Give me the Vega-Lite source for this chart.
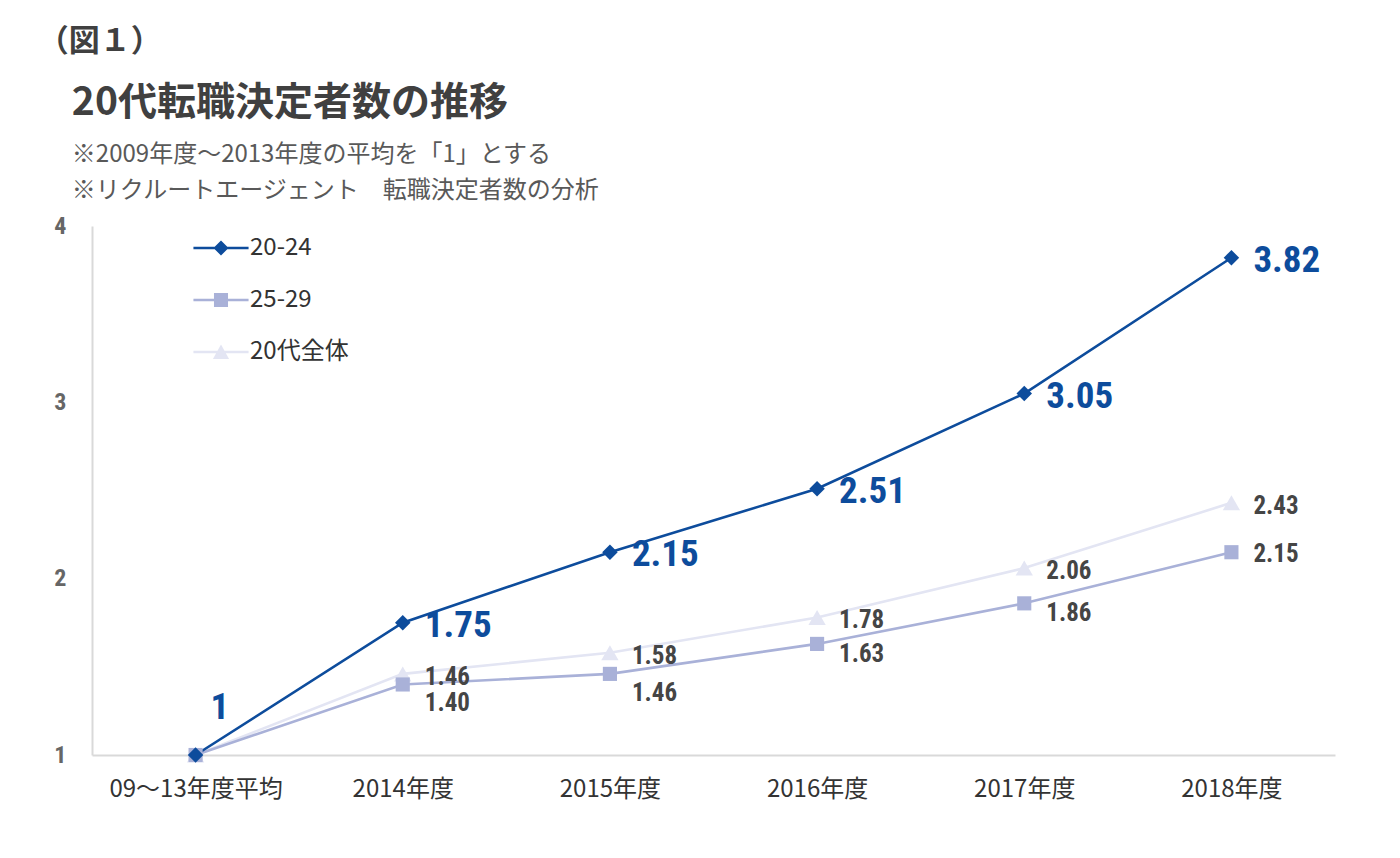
{
  "$schema": "https://vega.github.io/schema/vega-lite/v6.json",
  "background": "white",
  "padding": {"left": 37, "top": 26, "right": 12, "bottom": 10},
  "title": {
    "text": "（図１）",
    "anchor": "start",
    "frame": "bounds",
    "font": "Noto Sans CJK JP",
    "fontSize": 31,
    "fontWeight": "bold",
    "color": "#404040",
    "offset": 29,
    "dx": -16,
    "dy": 3
  },
  "config": {
    "view": {"stroke": null},
    "font": "Noto Sans CJK JP"
  },
  "datasets": {
    "index": [
      {"year": "09～13年度平均", "series": "20代全体", "value": 1},
      {"year": "2014年度", "series": "20代全体", "value": 1.46},
      {"year": "2015年度", "series": "20代全体", "value": 1.58},
      {"year": "2016年度", "series": "20代全体", "value": 1.78},
      {"year": "2017年度", "series": "20代全体", "value": 2.06},
      {"year": "2018年度", "series": "20代全体", "value": 2.43},
      {"year": "09～13年度平均", "series": "25-29", "value": 1},
      {"year": "2014年度", "series": "25-29", "value": 1.40},
      {"year": "2015年度", "series": "25-29", "value": 1.46},
      {"year": "2016年度", "series": "25-29", "value": 1.63},
      {"year": "2017年度", "series": "25-29", "value": 1.86},
      {"year": "2018年度", "series": "25-29", "value": 2.15},
      {"year": "09～13年度平均", "series": "20-24", "value": 1},
      {"year": "2014年度", "series": "20-24", "value": 1.75},
      {"year": "2015年度", "series": "20-24", "value": 2.15},
      {"year": "2016年度", "series": "20-24", "value": 2.51},
      {"year": "2017年度", "series": "20-24", "value": 3.05},
      {"year": "2018年度", "series": "20-24", "value": 3.82}
    ]
  },
  "vconcat": [
    {
      "title": {
        "text": "20代転職決定者数の推移",
        "subtitle": ["※2009年度～2013年度の平均を「1」とする", "※リクルートエージェント　転職決定者数の分析"],
        "anchor": "start",
        "frame": "bounds",
        "font": "Noto Sans CJK JP",
        "fontSize": 39,
        "fontWeight": "bold",
        "color": "#404040",
        "subtitleFont": "Noto Sans CJK JP",
        "subtitleFontSize": 24,
        "subtitleColor": "#595959",
        "subtitleLineHeight": 36,
        "subtitlePadding": 20,
        "offset": 11,
        "dx": 18
      },
      "width": 1243,
      "height": 529,
      "data": {"name": "index"},
      "encoding": {
        "x": {
          "field": "year",
          "type": "ordinal",
          "scale": {
            "type": "point",
            "padding": 0.5,
            "domain": ["09～13年度平均", "2014年度", "2015年度", "2016年度", "2017年度", "2018年度"]
          },
          "axis": {
            "title": null,
            "labelAngle": 0,
            "labelFont": "Noto Sans CJK JP",
            "labelFontSize": 24,
            "labelColor": "#333333",
            "labelPadding": 22,
            "ticks": false,
            "grid": false,
            "domainColor": "#d9d9d9",
            "domainWidth": 2
          }
        },
        "y": {
          "field": "value",
          "type": "quantitative",
          "scale": {"domain": [1, 4], "nice": false, "zero": false},
          "axis": {
            "title": null,
            "values": [1, 2, 3, 4],
            "format": "d",
            "labelFont": "Roboto Condensed, Roboto, sans-serif",
            "labelFontSize": 24,
            "labelFontWeight": "bold",
            "labelColor": "#666666",
            "labelPadding": 26,
            "ticks": false,
            "grid": false,
            "domainColor": "#d9d9d9",
            "domainWidth": 2
          }
        },
        "color": {
          "field": "series",
          "type": "nominal",
          "scale": {
            "domain": ["20-24", "25-29", "20代全体"],
            "range": ["#0d4c9c", "#a9b1d8", "#e3e5f3"]
          },
          "legend": {
            "title": null,
            "orient": "none",
            "legendX": 103,
            "legendY": -4,
            "padding": 0,
            "symbolSize": 2704,
            "rowPadding": 14,
            "labelOffset": 3,
            "labelFont": "Noto Sans CJK JP",
            "labelFontSize": 24,
            "labelColor": "#333333",
            "encode": {
              "symbols": {
                "update": {
                  "shape": {"signal": "datum.value === '20-24' ? 'M-1.06,-0.048H1.06V0.048H-1.06Z M0,-0.29L0.29,0L0,0.29L-0.29,0Z' : datum.value === '25-29' ? 'M-1.06,-0.048H1.06V0.048H-1.06Z M-0.27,-0.27H0.27V0.27H-0.27Z' : 'M-1.06,-0.048H1.06V0.048H-1.06Z M0,-0.29L0.31,0.27L-0.31,0.27Z'"},
                  "fill": {"scale": "color", "field": "value"},
                  "strokeWidth": {"value": 0},
                  "opacity": {"value": 1}
                }
              }
            }
          }
        }
      },
      "layer": [
        {
          "mark": {"type": "line", "strokeWidth": 2.6}
        },
        {
          "transform": [{"filter": "datum.series === '20代全体'"}],
          "mark": {"type": "point", "shape": "triangle-up", "filled": true, "opacity": 1, "size": 300}
        },
        {
          "transform": [{"filter": "datum.series === '25-29'"}],
          "mark": {"type": "point", "shape": "square", "filled": true, "opacity": 1, "size": 200}
        },
        {
          "transform": [{"filter": "datum.series === '20-24'"}],
          "mark": {"type": "point", "shape": "diamond", "filled": true, "opacity": 1, "size": 240}
        },
        {
          "transform": [{"filter": "datum.series === '20-24' && datum.year !== '09～13年度平均'"}],
          "mark": {
            "type": "text",
            "align": "left",
            "baseline": "middle",
            "dx": 22,
            "dy": 3,
            "font": "Roboto Condensed, Roboto, sans-serif",
            "fontSize": 37,
            "fontWeight": "bold"
          },
          "encoding": {"text": {"field": "value", "type": "quantitative", "format": ".2f"}, "color": {"value": "#0d4c9c"}}
        },
        {
          "transform": [{"filter": "datum.series === '20-24' && datum.year === '09～13年度平均'"}],
          "mark": {
            "type": "text",
            "align": "left",
            "baseline": "middle",
            "dx": 15,
            "dy": -47,
            "font": "Roboto Condensed, Roboto, sans-serif",
            "fontSize": 37,
            "fontWeight": "bold"
          },
          "encoding": {"text": {"field": "value", "type": "quantitative", "format": "d"}, "color": {"value": "#0d4c9c"}}
        },
        {
          "transform": [{"filter": "datum.series === '20代全体' && datum.year !== '09～13年度平均'"}],
          "mark": {
            "type": "text",
            "align": "left",
            "baseline": "middle",
            "dx": 22,
            "dy": 3,
            "font": "Roboto Condensed, Roboto, sans-serif",
            "fontSize": 25,
            "fontWeight": "bold"
          },
          "encoding": {"text": {"field": "value", "type": "quantitative", "format": ".2f"}, "color": {"value": "#454545"}}
        },
        {
          "transform": [{"filter": "datum.series === '25-29' && (datum.year === '2014年度' || datum.year === '2015年度')"}],
          "mark": {
            "type": "text",
            "align": "left",
            "baseline": "middle",
            "dx": 22,
            "dy": 19,
            "font": "Roboto Condensed, Roboto, sans-serif",
            "fontSize": 25,
            "fontWeight": "bold"
          },
          "encoding": {"text": {"field": "value", "type": "quantitative", "format": ".2f"}, "color": {"value": "#454545"}}
        },
        {
          "transform": [{"filter": "datum.series === '25-29' && (datum.year === '2016年度' || datum.year === '2017年度')"}],
          "mark": {
            "type": "text",
            "align": "left",
            "baseline": "middle",
            "dx": 22,
            "dy": 10,
            "font": "Roboto Condensed, Roboto, sans-serif",
            "fontSize": 25,
            "fontWeight": "bold"
          },
          "encoding": {"text": {"field": "value", "type": "quantitative", "format": ".2f"}, "color": {"value": "#454545"}}
        },
        {
          "transform": [{"filter": "datum.series === '25-29' && datum.year === '2018年度'"}],
          "mark": {
            "type": "text",
            "align": "left",
            "baseline": "middle",
            "dx": 22,
            "dy": 2,
            "font": "Roboto Condensed, Roboto, sans-serif",
            "fontSize": 25,
            "fontWeight": "bold"
          },
          "encoding": {"text": {"field": "value", "type": "quantitative", "format": ".2f"}, "color": {"value": "#454545"}}
        }
      ]
    }
  ]
}
